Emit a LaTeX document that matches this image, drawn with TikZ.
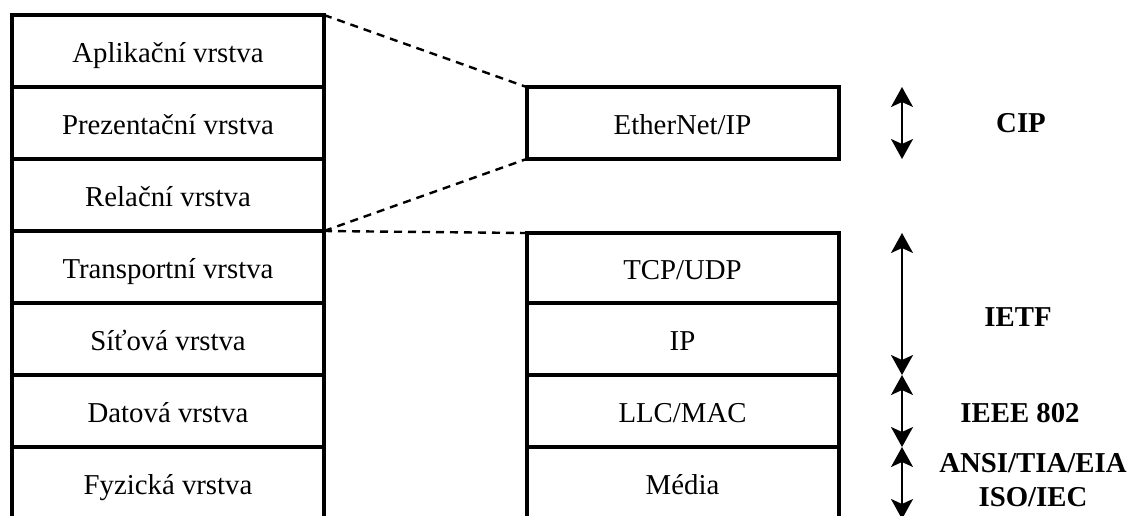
\documentclass[tikz,border=0pt]{standalone}
\usepackage{fontspec}
\setmainfont{Liberation Serif}
\usetikzlibrary{positioning, arrows.meta, calc}

\tikzset{
	layer/.style={draw, rectangle, line width=2pt, minimum width=156pt, minimum height=36pt, inner sep=0pt, outer sep=0pt, text height=14pt, text depth=3pt, text centered},
	link/.style={dashed, line width=1.2pt, dash pattern=on 4pt off 3pt},
	span/.style={line width=1pt, {Stealth[length=10pt, width=11pt, inset=2.5pt]}-{Stealth[length=10pt, width=11pt, inset=2.5pt]}},
	body/.style={font=\fontsize{14.4}{17}\selectfont\bfseries}
}

\begin{document}
\begin{tikzpicture}[x=0.5pt, y=-0.5pt, font=\fontsize{14.4}{17}\selectfont]
			
			\clip (0,0) rectangle (1129,515);
			
			%OSI layers
			\node (aplLayer) at (168,51) [layer] {Aplikační vrstva};
			\node (preLayer) at (168,123) [layer] {Prezentační vrstva};
			\node (relLayer) at (168,195) [layer] {Relační vrstva};
			\node (traLayer) at (168,267) [layer] {Transportní vrstva};
			\node (sitLayer) at (168,339) [layer] {Síťová vrstva};
			\node (datLayer) at (168,411) [layer] {Datová vrstva};
			\node (fyzLayer) at (168,483) [layer] {Fyzická vrstva};
			
			%Protocol layers
			\node (eipLayer) at (682.5,123) [layer] {EtherNet/IP};
			\node (tcpLayer) at (682.5,268) [layer, minimum height=35pt] {TCP/UDP};
			\node (ipLayer) at (682.5,339) [layer] {IP};
			\node (llcLayer) at (682.5,411) [layer] {LLC/MAC};
			\node (medLayer) at (682.5,483) [layer] {Média};
			
			%Links
			\draw[link] (aplLayer.north east) -- (eipLayer.north west);
			\draw[link] (relLayer.south east) -- (eipLayer.south west);
			\draw[link] (relLayer.south east) -- (tcpLayer.north west);
			
			%Spans
			\coordinate (spanX) at (902,0);
			\draw[span] (eipLayer.north -| spanX) -- (eipLayer.south -| spanX);
			\draw[span] (tcpLayer.north -| spanX) -- (ipLayer.south -| spanX);
			\draw[span] (llcLayer.north -| spanX) -- (llcLayer.south -| spanX);
			\draw[span] (medLayer.north -| spanX) -- (medLayer.south -| spanX);
			
			%Bodies
			\node (cipBody) at (1021,123) [body] {CIP};
			\node (ietfBody) at (1018,317) [body] {IETF};
			\node (ieeeBody) at (1020,413) [body] {IEEE 802};
			\node (ansiBody) at (1033,480) [body, align=center, inner sep=0pt] {ANSI/TIA/EIA\\ISO/IEC};
			
\end{tikzpicture}
\end{document}
